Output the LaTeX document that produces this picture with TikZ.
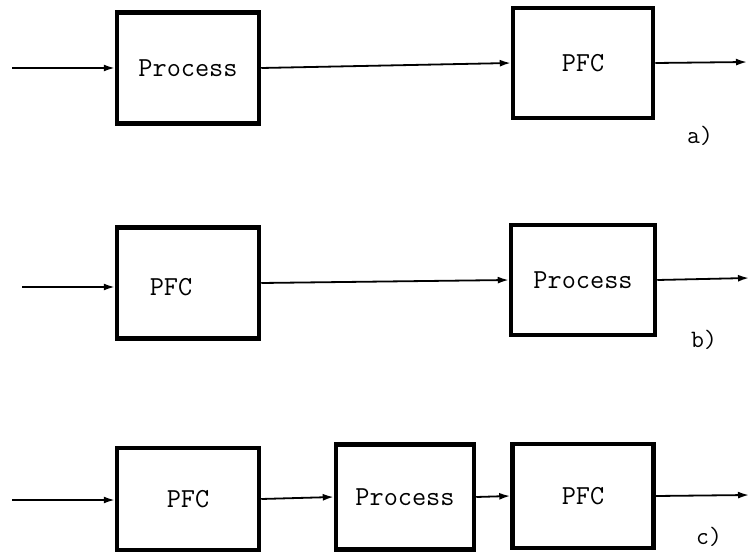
\documentclass[tikz,border=0pt]{standalone}
\usetikzlibrary{arrows.meta}
\begin{document}
\begin{tikzpicture}[x=1pt,y=-1pt,
  box/.style={draw,line width=4.5pt,minimum width=#1,inner sep=0pt,font=\ttfamily\fontsize{27.5}{29}\selectfont},
  box/.default=142pt,
  lbl/.style={inner sep=0pt,font=\ttfamily\fontsize{27.5}{29}\selectfont},
  tag/.style={inner sep=0pt,font=\ttfamily\fontsize{25}{27}\selectfont},
  conn/.style={line width=1.8pt,-{Latex[length=11pt,width=7pt]}}]
\useasboundingbox (0,0) rectangle (752,553);
% row a
\node[box=142pt,minimum height=111pt] (A1) at (188,68) {Process};
\node[box=140pt,minimum height=110pt] (A2) at (583,63) {PFC};
\coordinate (Ain) at (12,68);
\coordinate (Aout) at (747,62);
\draw[conn] (Ain) -- (A1.west);
\draw[conn] (A1.east) -- (A2.west);
\draw[conn] (A2.east) -- (Aout);
\node[tag] (ta) at (700,136) {a)};
% row b
\node[box=142pt,minimum height=111pt] (B1) at (188,283) {};
\node[lbl] (B1t) at (171,287) {PFC};
\node[box=144pt,minimum height=110pt] (B2) at (583,280) {Process};
\coordinate (Bin) at (22,287);
\coordinate (Bout) at (749,278);
\draw[conn] (Bin) -- (B1.west |- Bin);
\draw[conn] (B1.east) -- (B2.west);
\draw[conn] (B2.east) -- (Bout);
\node[tag] (tb) at (704,340) {b)};
% row c
\node[box=142pt,minimum height=102pt] (C1) at (188,499) {PFC};
\node[box=138pt,minimum height=105pt] (C2) at (405,497) {Process};
\node[box=141pt,minimum height=104pt] (C3) at (583,496) {PFC};
\coordinate (Cin) at (12,500);
\coordinate (Cout) at (749,495);
\draw[conn] (Cin) -- (C1.west |- Cin);
\draw[conn] (C1.east) -- (C2.west);
\draw[conn] (C2.east) -- (C3.west);
\draw[conn] (C3.east) -- (Cout);
\node[tag] (tc) at (709,537) {c)};
\end{tikzpicture}
\end{document}
